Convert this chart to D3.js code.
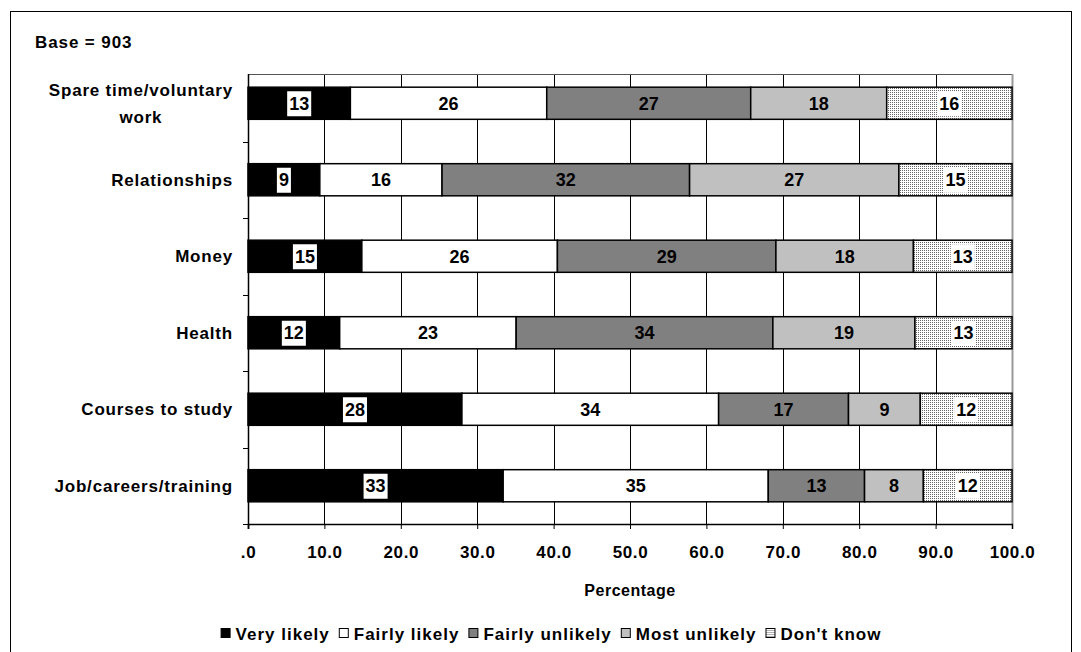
<!DOCTYPE html>
<html>
<head>
<meta charset="utf-8">
<script src="https://cdn.jsdelivr.net/npm/d3@7"></script>
<style>
  body { margin: 0; background: #fff; }
  svg { display: block; font-family: Arial, "Liberation Sans", sans-serif; font-weight: bold; }
</style>
</head>
<body>
<script>
var categories = ["Spare time/voluntary\nwork", "Relationships", "Money", "Health", "Courses to study", "Job/careers/training"];
var seriesNames = ["Very likely", "Fairly likely", "Fairly unlikely", "Most unlikely", "Don't know"];
var veryLikely     = [13.4,  9.4, 14.9, 12.0, 28.0, 33.4];
var fairlyLikely   = [25.7, 16.0, 25.6, 23.1, 33.6, 34.7];
var fairlyUnlikely = [26.7, 32.4, 28.6, 33.6, 17.0, 12.6];
var mostUnlikely   = [17.8, 27.4, 18.0, 18.6,  9.4,  7.7];
var dontKnow       = [16.4, 14.8, 12.9, 12.7, 12.0, 11.6];
var xTicks = [0, 10, 20, 30, 40, 50, 60, 70, 80, 90, 100];
var baseText = "Base = 903";
var xTitle = "Percentage";

var seriesValues = [veryLikely, fairlyLikely, fairlyUnlikely, mostUnlikely, dontKnow];
var fills = ["#000000", "#ffffff", "#808080", "#c0c0c0", "url(#dots)"];
var boxedLabel = [true, false, false, false, true];

var W = 1081, H = 652;
var plot = {left: 248, right: 1012, top: 74, bottom: 524};

var rows = categories.map(function(c, i) {
    var r = {cat: c};
    seriesNames.forEach(function(s, j) { r[s] = seriesValues[j][i]; });
    return r;
});

var svg = d3.select("body").append("svg")
    .attr("width", W)
    .attr("height", H);

var defs = svg.append("defs");
var pat = defs.append("pattern")
    .attr("id", "dots")
    .attr("patternUnits", "userSpaceOnUse")
    .attr("width", 2)
    .attr("height", 2);
pat.append("rect").attr("width", 2).attr("height", 2).attr("fill", "#ffffff");
pat.append("rect").attr("x", 0).attr("y", 0).attr("width", 1).attr("height", 1).attr("fill", "#666666");

// outer frame
svg.append("rect")
    .attr("x", 10.5).attr("y", 11.5)
    .attr("width", 1061).attr("height", 660)
    .attr("fill", "none")
    .attr("stroke", "#000")
    .attr("stroke-width", 1);

var x = d3.scaleLinear().domain([0, 100]).range([plot.left, plot.right]);
var y = d3.scaleBand().domain(categories).range([65, plot.bottom]).paddingInner(0.58).paddingOuter(0.29);

// vertical gridlines
svg.append("g").selectAll("line")
    .data(xTicks.slice(1, -1))
    .enter().append("line")
    .attr("x1", function(d) { return Math.round(x(d)) + 0.5; })
    .attr("x2", function(d) { return Math.round(x(d)) + 0.5; })
    .attr("y1", plot.top)
    .attr("y2", plot.bottom)
    .attr("stroke", "#000")
    .attr("stroke-width", 1);

// plot top and right border
svg.append("line")
    .attr("x1", plot.left).attr("x2", plot.right)
    .attr("y1", plot.top + 0.5).attr("y2", plot.top + 0.5)
    .attr("stroke", "#555").attr("stroke-width", 1);
svg.append("line")
    .attr("x1", plot.right + 0.5).attr("x2", plot.right + 0.5)
    .attr("y1", plot.top).attr("y2", plot.bottom)
    .attr("stroke", "#999").attr("stroke-width", 2);

var stack = d3.stack().keys(seriesNames);
var stacked = stack(rows);

var layer = svg.selectAll(".layer")
    .data(stacked)
    .enter().append("g")
    .attr("class", "layer");

layer.selectAll("rect")
    .data(function(d) { return d.map(function(p) { p.key = d.key; p.idx = d.index; return p; }); })
    .enter().append("rect")
    .attr("x", function(d) { return x(d[0]); })
    .attr("y", function(d) { return y(d.data.cat); })
    .attr("width", function(d) { return x(d[1]) - x(d[0]); })
    .attr("height", y.bandwidth())
    .attr("fill", function(d) { return fills[d.idx]; })
    .attr("stroke", "#000")
    .attr("stroke-width", 1.5);

// data labels
var labels = layer.selectAll(".lbl")
    .data(function(d) { return d; })
    .enter().append("g")
    .attr("class", "lbl")
    .attr("transform", function(d) {
        return "translate(" + ((x(d[0]) + x(d[1])) / 2) + "," + (y(d.data.cat) + y.bandwidth() / 2) + ")";
    });

labels.append("rect").attr("class", "bg");
labels.append("text")
    .attr("text-anchor", "middle")
    .attr("dy", "0.36em")
    .style("font-size", "18px")
    .attr("fill", "#000")
    .text(function(d) { return d3.format(".0f")(d[1] - d[0]); });

labels.each(function(d) {
    if (!boxedLabel[d.idx]) return;
    var t = d3.select(this).select("text").node();
    var w = t.getComputedTextLength();
    d3.select(this).select("rect.bg")
        .attr("x", -w / 2 - 2)
        .attr("y", -12)
        .attr("width", w + 4)
        .attr("height", 25)
        .attr("fill", "#fff");
});

// y axis line and ticks
svg.append("line")
    .attr("x1", plot.left + 0.5).attr("x2", plot.left + 0.5)
    .attr("y1", plot.top).attr("y2", plot.bottom + 5)
    .attr("stroke", "#000").attr("stroke-width", 1.5);

svg.append("g").selectAll("line")
    .data(d3.range(1, categories.length + 1))
    .enter().append("line")
    .attr("x1", plot.left - 5).attr("x2", plot.left)
    .attr("y1", function(k) { return Math.round(65 + y.step() * k) + 0.5; })
    .attr("y2", function(k) { return Math.round(65 + y.step() * k) + 0.5; })
    .attr("stroke", "#000");

// x axis
var xAxis = d3.axisBottom(x)
    .tickValues(xTicks)
    .tickSize(5)
    .tickFormat(function(d) { return d === 0 ? ".0" : d.toFixed(1); });

var gx = svg.append("g")
    .attr("transform", "translate(0," + plot.bottom + ")")
    .call(xAxis);
gx.select(".domain").attr("stroke", "#000").attr("stroke-width", 1.5);
gx.selectAll(".tick line").attr("stroke", "#000");
gx.selectAll(".tick text")
    .attr("y", 22)
    .attr("fill", "#000")
    .style("font-size", "17px")
    .style("letter-spacing", "0.6px")
    .style("font-weight", "bold")
    .style("font-family", "Arial, 'Liberation Sans', sans-serif");

// category labels
var catG = svg.append("g");
categories.forEach(function(c) {
    var lines = c.split("\n");
    var cy = y(c) + y.bandwidth() / 2;
    var t = catG.append("text")
        .attr("y", cy)
        .style("font-size", "17px")
        .style("letter-spacing", "0.8px");
    if (lines.length === 1) {
        t.attr("x", 233).attr("text-anchor", "end").attr("dy", "0.36em").text(c);
    } else {
        // wrapped label: lines centred on each other, right edge at the axis gap
        var first = t.text(lines[0]);
        var w = first.node().getComputedTextLength();
        t.text(null).attr("text-anchor", "middle");
        lines.forEach(function(l, i) {
            t.append("tspan")
                .attr("x", 233 - w / 2)
                .attr("y", cy + (i - (lines.length - 1) / 2) * 27)
                .attr("dy", "0.36em")
                .text(l);
        });
    }
});

// base text
svg.append("text")
    .attr("x", 35).attr("y", 42)
    .attr("dy", "0.36em")
    .style("font-size", "17px")
    .style("letter-spacing", "0.9px")
    .text(baseText);

// axis title
svg.append("text")
    .attr("x", (plot.left + plot.right) / 2)
    .attr("y", 590)
    .attr("dy", "0.36em")
    .attr("text-anchor", "middle")
    .style("font-size", "16px")
    .style("letter-spacing", "0.5px")
    .text(xTitle);

// legend
var legend = svg.append("g");
var lx = 0;
seriesNames.forEach(function(s, i) {
    var item = legend.append("g").attr("transform", "translate(" + lx + ",0)");
    item.append("rect")
        .attr("x", 0.5).attr("y", -5.5)
        .attr("width", 9).attr("height", 9)
        .attr("fill", fills[i])
        .attr("stroke", "#000");
    var t = item.append("text")
        .attr("x", 15)
        .attr("dy", "0.36em")
        .style("font-size", "17px")
        .style("letter-spacing", "1px")
        .text(s);
    lx += 15 + t.node().getComputedTextLength() + 9;
});
legend.attr("transform", "translate(" + (551 - (lx - 9) / 2) + ",634)");
</script>
</body>
</html>
